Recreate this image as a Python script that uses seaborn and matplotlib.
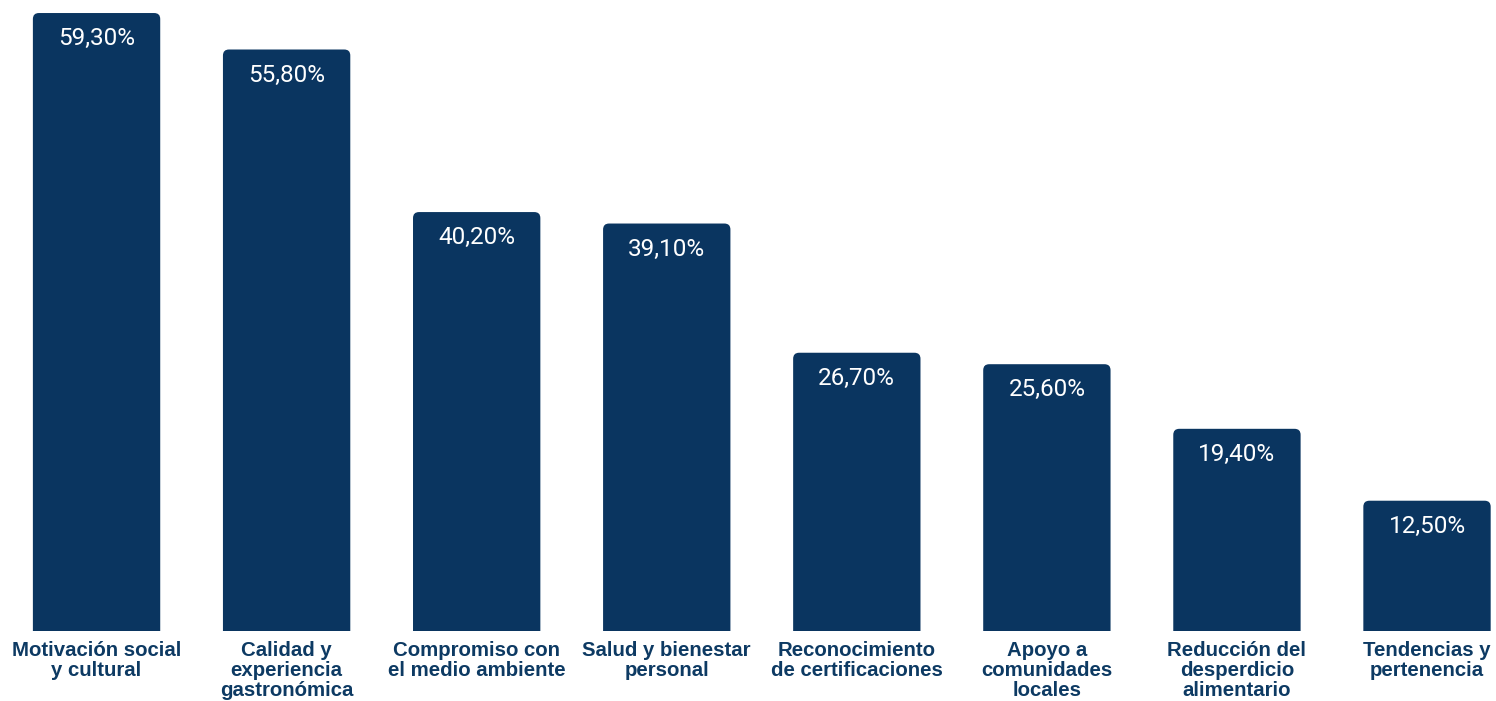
import matplotlib
matplotlib.use("Agg")
import matplotlib.pyplot as plt
from matplotlib.patches import FancyBboxPatch, Rectangle
import seaborn as sns
import pandas as pd

categories = [
    "Motivación social\ny cultural",
    "Calidad y\nexperiencia\ngastronómica",
    "Compromiso con\nel medio ambiente",
    "Salud y bienestar\npersonal",
    "Reconocimiento\nde certificaciones",
    "Apoyo a\ncomunidades\nlocales",
    "Reducción del\ndesperdicio\nalimentario",
    "Tendencias y\npertenencia",
]
values = [59.3, 55.8, 40.2, 39.1, 26.7, 25.6, 19.4, 12.5]
value_labels = ["59,30%", "55,80%", "40,20%", "39,10%", "26,70%", "25,60%", "19,40%", "12,50%"]

NAVY = "#0a3560"
LABEL_NAVY = "#0d3a63"

sns.set_theme(style="white")
plt.rcParams["font.family"] = ["Liberation Sans", "DejaVu Sans"]

df = pd.DataFrame({"cat": categories, "val": values})

fig = plt.figure(figsize=(14.96, 7.01), dpi=100)
ax = fig.add_axes([0, 0, 1, 1])
sns.barplot(data=df, x="cat", y="val", color=NAVY, width=0.67, ax=ax, saturation=1)

ax.set_xlim(-0.508, 7.363)
ax.set_ylim(-6.72, 60.55)
for s in ax.spines.values():
    s.set_visible(False)
ax.set_xticks([])
ax.set_yticks([])
ax.set_xlabel("")
ax.set_ylabel("")

# swap plain bars for bars with rounded top corners
px_x = 1 / 190.07
px_y = 1 / 10.42
r_px = 6
aspect = (r_px * px_y) / (r_px * px_x)
bars = list(ax.patches)
for bar in bars:
    x, w, h = bar.get_x(), bar.get_width(), bar.get_height()
    bar.set_visible(False)
    rb = FancyBboxPatch((x, -2), w, h + 2,
                        boxstyle=f"round,pad=0,rounding_size={r_px * px_x}",
                        mutation_aspect=aspect, facecolor=NAVY, edgecolor="none",
                        zorder=2)
    ax.add_patch(rb)
    clip = Rectangle((x - 1, 0), w + 2, 100, transform=ax.transData)
    rb.set_clip_path(clip)

for i, (v, lab) in enumerate(zip(values, value_labels)):
    ax.text(i, v - 25.5 * px_y, lab, ha="center", va="center", color="white",
            fontsize=17.5, family=["Roboto", "DejaVu Sans"], zorder=3)
    ax.text(i, -1.0, categories[i], ha="center", va="top", color=LABEL_NAVY,
            fontsize=14.7, fontweight="bold", linespacing=1.06, zorder=3)

fig.savefig("out.png", dpi=100)
